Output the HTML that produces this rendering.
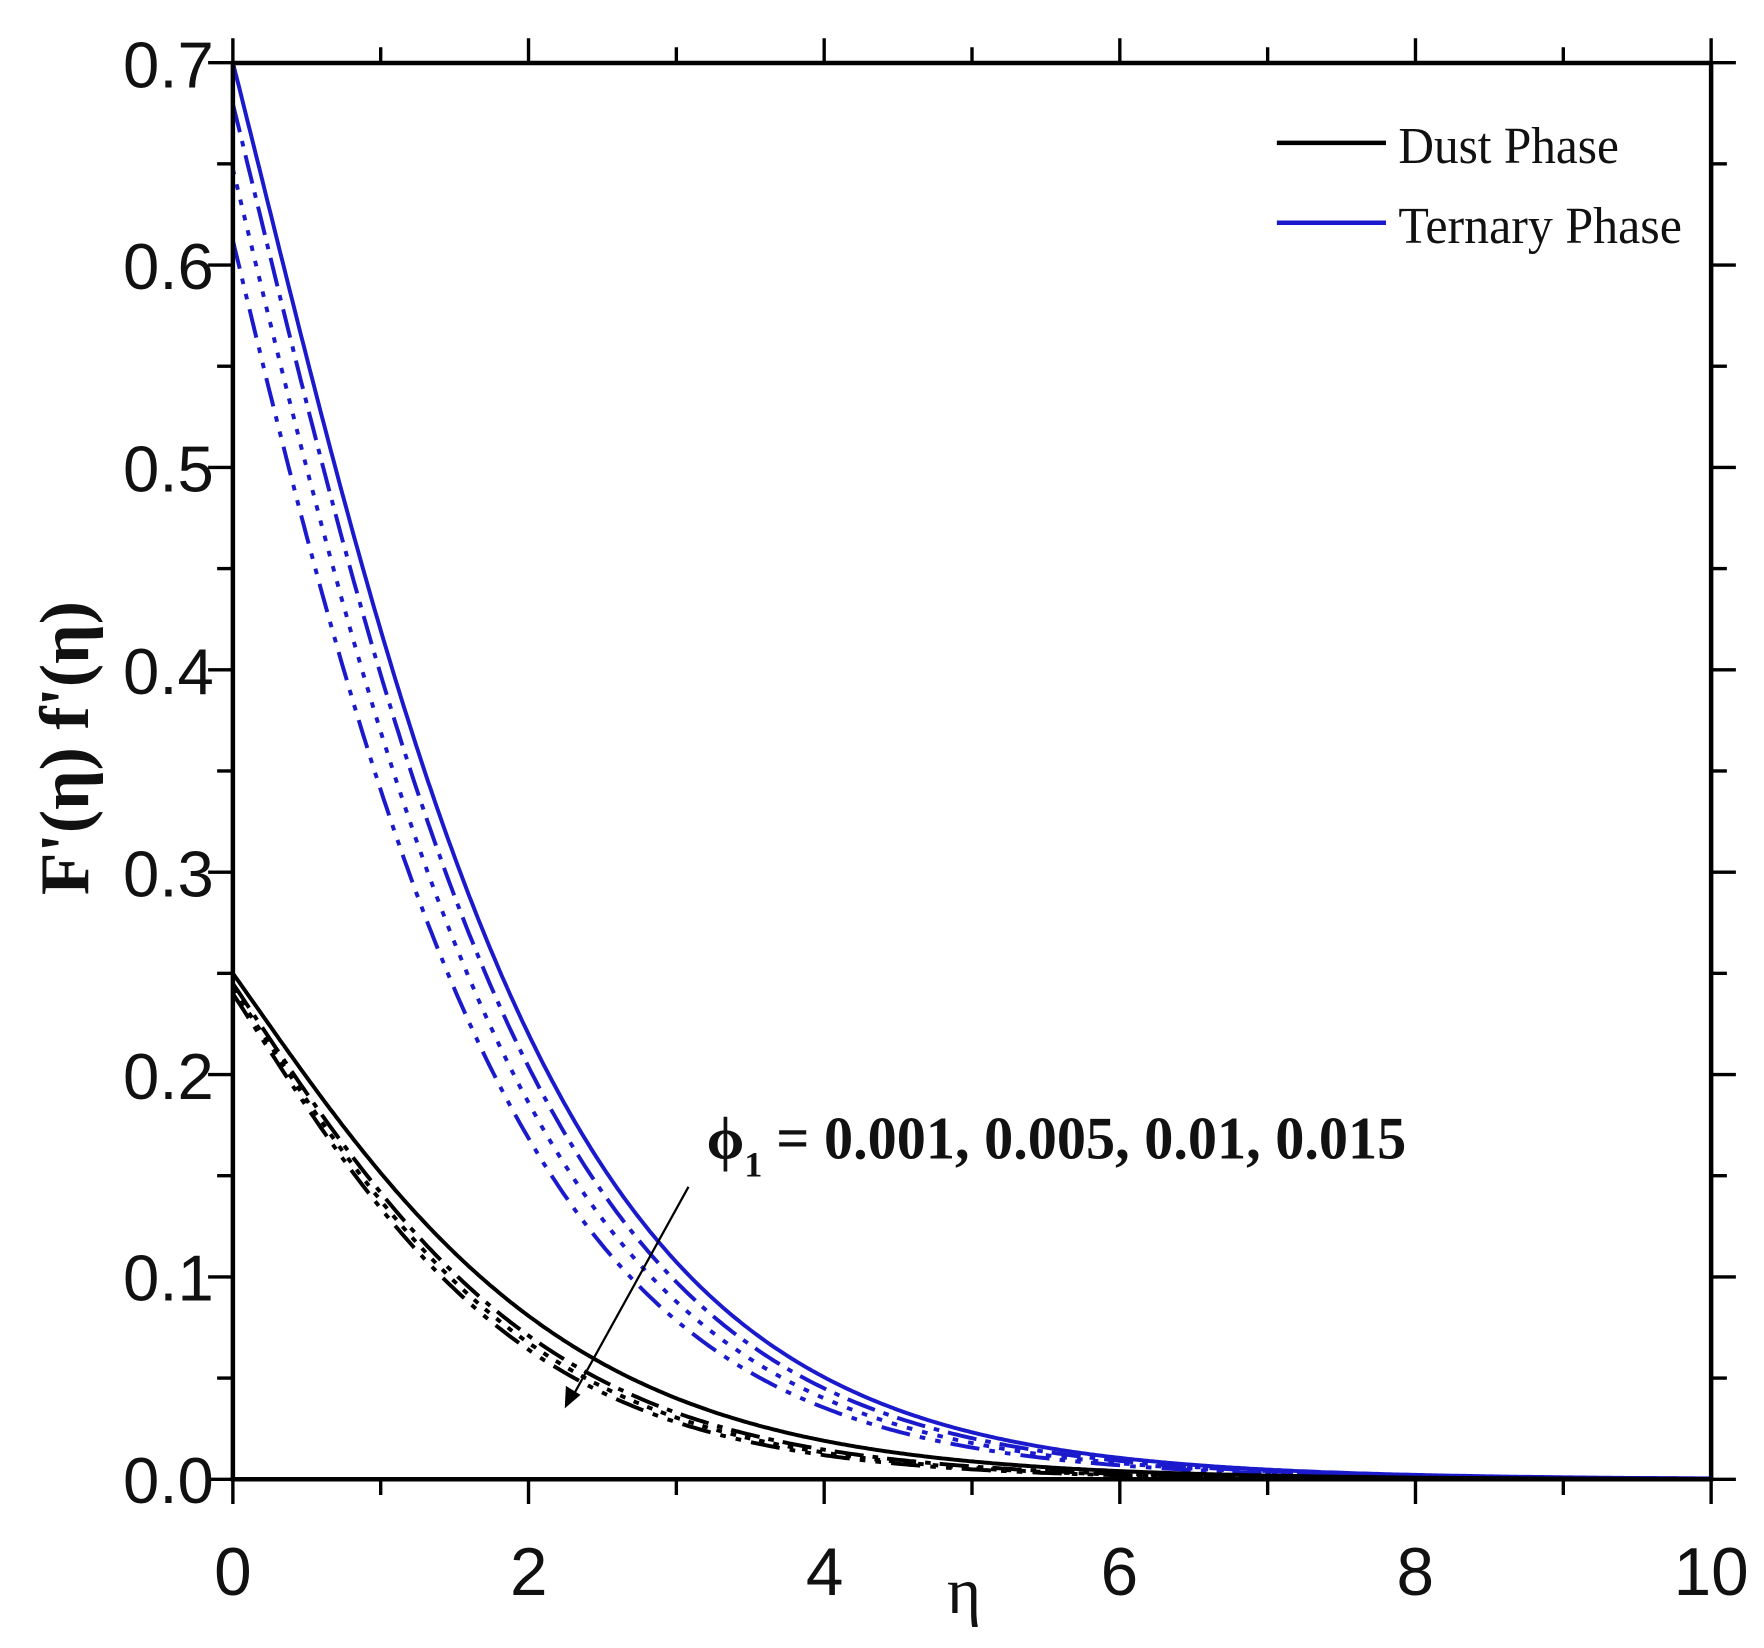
<!DOCTYPE html>
<html><head><meta charset="utf-8"><style>
html,body{margin:0;padding:0;background:#fff;}
svg{display:block;}
</style></head><body>
<svg id="s" width="1764" height="1648" viewBox="0 0 1568 1465" preserveAspectRatio="none" xmlns="http://www.w3.org/2000/svg">
<rect width="1568" height="1465" fill="#fff"/>
<g id="curves" fill="none"></g>
<g id="ticks" stroke="#000" stroke-width="3"></g>
<rect x="207" y="56" width="1314" height="1259" fill="none" stroke="#000" stroke-width="4"/>
<g font-family="Liberation Sans, sans-serif" font-size="58" fill="#111" text-anchor="end">
<text x="190" y="1336">0.0</text>
<text x="190" y="1156">0.1</text>
<text x="190" y="977">0.2</text>
<text x="190" y="797">0.3</text>
<text x="190" y="617">0.4</text>
<text x="190" y="437">0.5</text>
<text x="190" y="257">0.6</text>
<text x="190" y="78">0.7</text>
</g>
<g font-family="Liberation Sans, sans-serif" font-size="60" fill="#111" text-anchor="middle">
<text x="207" y="1418">0</text>
<text x="470" y="1418">2</text>
<text x="733" y="1418">4</text>
<text x="995" y="1418">6</text>
<text x="1258" y="1418">8</text>
<text x="1521" y="1418">10</text>
<text x="857" y="1434" font-family="Liberation Serif, serif" font-size="58">η</text>
</g>
<text transform="translate(78,665) rotate(-90)" text-anchor="middle" font-family="Liberation Serif, serif" font-weight="bold" font-size="62" fill="#111">F'(η) f'(η)</text>
<line x1="1135" y1="127" x2="1232" y2="127" stroke="#000" stroke-width="4"/>
<line x1="1135" y1="198" x2="1232" y2="198" stroke="#1a1acc" stroke-width="4"/>
<text x="1243" y="145" font-family="Liberation Serif, serif" font-size="46" fill="#111" textLength="196" lengthAdjust="spacingAndGlyphs">Dust Phase</text>
<text x="1243" y="216" font-family="Liberation Serif, serif" font-size="46" fill="#111" textLength="252" lengthAdjust="spacingAndGlyphs">Ternary Phase</text>
<text x="628" y="1030" font-family="Liberation Serif, serif" font-weight="bold" font-size="54" fill="#111">ϕ<tspan font-size="32" dy="16">1</tspan></text>
<text x="690" y="1030" font-family="Liberation Serif, serif" font-weight="bold" font-size="54" fill="#111" textLength="560" lengthAdjust="spacingAndGlyphs">= 0.001, 0.005, 0.01, 0.015</text>
<line x1="612" y1="1055" x2="507" y2="1245" stroke="#000" stroke-width="2"/>
<polygon points="502,1252 503,1232 516,1240" fill="#000"/>
</svg>
<script>
var X=function(e){return 207+131.4*e;},Y=function(v){return 1315-1799*v;};
function blue(e){return 0.7*Math.exp(-(0.8*e-0.62*(1-Math.exp(-e/1.6))));}
function black(e){return 0.25*Math.exp(-(0.8*e-0.7*(1-Math.exp(-e/1.8))));}
function path(fn,d,sc,k){sc=sc||1;k=k||1;var s="";for(var e=0;e<=10.001;e+=0.02){var v=fn(e*k+d)*sc;s+=(s?"L":"M")+X(e).toFixed(1)+" "+Y(v).toFixed(1);}return s;}
var g=document.getElementById("curves"),ns="http://www.w3.org/2000/svg";
function add(d,col,da){var el=document.createElementNS(ns,"path");el.setAttribute("d",d);el.setAttribute("stroke",col);el.setAttribute("stroke-width","3.5");if(da)el.setAttribute("stroke-dasharray",da);g.appendChild(el);}
var bl="#1a1acc";
add(path(blue,0.3,1,1.04),bl,"26 9 5 9 5 9");
add(path(blue,0.18,1,1.03),bl,"5 9");
add(path(blue,0.07,1,1.02),bl,"26 8 5 8");
add(path(blue,0),bl,null);
add(path(black,0,0.96,1.14),"#000","26 9 5 9 5 9");
add(path(black,0,0.97,1.11),"#000","5 8");
add(path(black,0,0.98,1.08),"#000","26 8 5 8");
add(path(black,0),"#000",null);
var t=document.getElementById("ticks");
function ln(a,b,c,d){var el=document.createElementNS(ns,"line");el.setAttribute("x1",a);el.setAttribute("y1",b);el.setAttribute("x2",c);el.setAttribute("y2",d);t.appendChild(el);}
for(var i=0;i<=14;i++){var y=Y(i*0.05),L=(i%2==0)?22:14;ln(207,y,207-L,y);ln(1521,y,1521+L,y);}
for(var i=0;i<=10;i++){var x=X(i),L=(i%2==0)?22:14;ln(x,1315,x,1315+L);ln(x,56,x,56-L);}
</script>
</body></html>
